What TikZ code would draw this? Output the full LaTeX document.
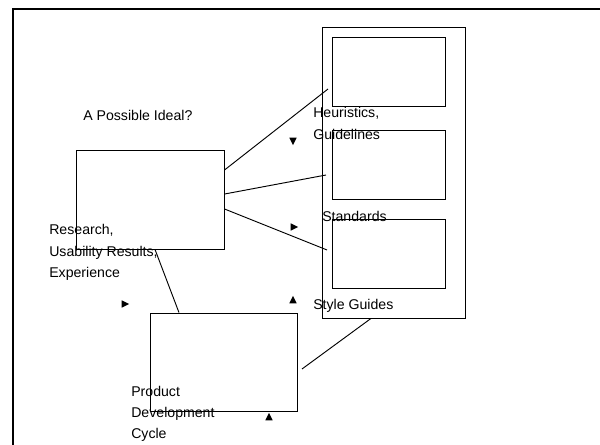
\documentclass[tikz,border=0pt]{standalone}
\usepackage{fontspec}
\setmainfont{Liberation Sans}
\usetikzlibrary{shapes.geometric}

\begin{document}
\begin{tikzpicture}[
    x=0.75pt, y=-0.75pt,
    border/.style={line width=1.6pt},
    box/.style={draw, line width=0.7pt, inner sep=0pt},
    link/.style={line width=0.7pt},
    caption/.style={font=\fontsize{10.6}{15.9}\selectfont, align=left,
                    inner sep=0pt},
    pointer/.style={isosceles triangle, isosceles triangle stretches, fill,
                    inner sep=0pt, minimum width=5.5pt, minimum height=5.5pt},
]
    \useasboundingbox (0,0) rectangle (600,445);
    \draw[border] (13,445) -- (13,9) -- (600,9);

    \node[box, minimum width=107.25pt, minimum height=218.25pt] (stack) at (393.5,172.5) {};
    \node[box, minimum width=84.75pt, minimum height=51.75pt] (heuristics) at (388.5,71.5) {};
    \node[box, minimum width=84.75pt, minimum height=51.75pt] (standards) at (388.5,164.5) {};
    \node[box, minimum width=84.75pt, minimum height=51.75pt] (styles) at (388.5,253.5) {};
    \node[box, minimum width=111pt, minimum height=74.25pt] (ideal) at (150,199.5) {};
    \node[box, minimum width=110.25pt, minimum height=73.5pt] (cycle) at (223.5,362) {};

    \node[caption, anchor=base west] (idealtext) at (83,120.7) {A Possible Ideal?};
    \node[caption, anchor=north west] (heurtext) at (313,107.3) {Heuristics,\\Guidelines};
    \node[caption, anchor=base west] (stdtext) at (322,221.3) {Standards};
    \node[caption, anchor=north west] (restext) at (49,224.3)
        {Research,\\Usability Results,\\Experience};
    \node[caption, anchor=base west] (styletext) at (313,309.3) {Style Guides};
    \node[caption, anchor=north west] (cycletext) at (131,385.7)
        {Product\\Development\\Cycle};

    \node[pointer, rotate=-90] (down1) at (293,140) {};
    \node[pointer] (right1) at (293,227) {};
    \node[pointer] (right2) at (124,304) {};
    \node[pointer, rotate=90] (up1) at (293,301) {};
    \node[pointer, rotate=90] (up2) at (269,418) {};

    \coordinate (h1) at (328,89);
    \coordinate (s1) at (326,175);
    \coordinate (g1) at (327,250);
    \coordinate (c1) at (302,369);

    \draw[link] ([yshift=22.1pt]ideal.east) -- (h1);
    \draw[link] ([yshift=4.1pt]ideal.east) -- (s1);
    \draw[link] ([yshift=-7.1pt]ideal.east) -- (g1);
    \draw[link] ([xshift=3.75pt]ideal.south) -- ([xshift=-33.4pt]cycle.north);
    \draw[link] (c1) -- ([xshift=-16.9pt]stack.south);
\end{tikzpicture}
\end{document}
